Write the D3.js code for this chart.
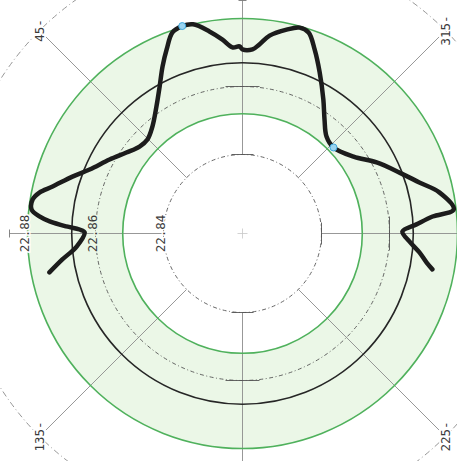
<!DOCTYPE html>
<html>
<head>
<meta charset="utf-8">
<script src="https://cdn.jsdelivr.net/npm/d3@7"></script>
<style>
  body { margin: 0; background: #fff; }
  svg { display: block; }
  text { font-family: "DejaVu Sans Mono", monospace; font-size: 12.5px; fill: #3a3a3a; }
</style>
</head>
<body>
<svg id="chart" width="457" height="461"></svg>
<script>
// measured profile: angle in degrees, counter-clockwise from the top
var angles = [-100.7, -99.0, -96.1, -92.7, -89.3, -87.0, -84.9, -83.5, -78.2, -73.9,
  -68.8, -62.1, -55.3, -46.6, -40.9, -35.7, -31.1, -25.6, -21.4, -18.2,
  -15.5, -12.2, -7.8, -5.1, -3.1, 0, 0.9, 3.1, 5.9, 9.3,
  13.3, 16.2, 19.2, 22.4, 25.6, 29.4, 34.1, 40.1, 45.3, 49.8,
  55.1, 60.9, 67.3, 71.5, 76.1, 78.6, 80.8, 83.5, 85.2, 86.4,
  87.7, 88.6, 89.6, 94.5, 98.2, 101.4];
var values = [22.8736, 22.8716, 22.8691, 22.8659, 22.8638, 22.8680, 22.8729, 22.8793, 22.8759, 22.8709,
  22.8663, 22.8614, 22.8565, 22.8536, 22.8545, 22.8581, 22.8628, 22.8693, 22.8749, 22.8790,
  22.8796, 22.8781, 22.8755, 22.8726, 22.8710, 22.8709, 22.8718, 22.8716, 22.8741, 22.8770,
  22.8800, 22.8803, 22.8794, 22.8753, 22.8712, 22.8664, 22.8619, 22.8579, 22.8561, 22.8564,
  22.8584, 22.8615, 22.8655, 22.8695, 22.8743, 22.8777, 22.8793, 22.8792, 22.8767, 22.8736,
  22.8686, 22.8647, 22.8632, 22.8657, 22.8703, 22.8747];

var radialTicks = [22.84, 22.86, 22.88];
var angleTicks = [45, 135, 225, 315];
var mainAxes = [0, 90, 180, 270];
var lowerLimit = 22.852;
var nominal = 22.867;
var upperLimit = 22.88;

var cx = 242.5, cy = 233.5;
var rad = Math.PI / 180;

var r = d3.scaleLinear().domain([22.84, 22.88]).range([79, 215]);

function px(a, rr) { return -rr * Math.sin(a * rad); }
function py(a, rr) { return -rr * Math.cos(a * rad); }

var svg = d3.select('#chart');
var g = svg.append('g').attr('transform', 'translate(' + cx + ',' + cy + ')');

// tolerance band
var band = d3.arc()
  .innerRadius(r(lowerLimit))
  .outerRadius(r(upperLimit))
  .startAngle(0)
  .endAngle(2 * Math.PI);
g.append('path').attr('d', band()).attr('fill', '#ebf7e7');

// outer frame circle (dashed)
g.append('circle').attr('r', 287)
  .attr('fill', 'none').attr('stroke', '#8a8a8a')
  .attr('stroke-width', 0.9).attr('stroke-dasharray', '6,3,1,3');

// radial lines
g.selectAll('line.axis').data(mainAxes).enter().append('line')
  .attr('class', 'axis')
  .attr('x1', function (d) { return px(d, r(22.84)); })
  .attr('y1', function (d) { return py(d, r(22.84)); })
  .attr('x2', function (d) { return px(d, 233); })
  .attr('y2', function (d) { return py(d, 233); })
  .attr('stroke', '#8c8c8c').attr('stroke-width', 0.9);

g.selectAll('line.diag').data(angleTicks).enter().append('line')
  .attr('class', 'diag')
  .attr('x1', function (d) { return px(d, r(22.84)); })
  .attr('y1', function (d) { return py(d, r(22.84)); })
  .attr('x2', function (d) { return px(d, 278); })
  .attr('y2', function (d) { return py(d, 278); })
  .attr('stroke', '#8c8c8c').attr('stroke-width', 0.9);

// grid circles
g.selectAll('circle.grid').data(radialTicks.slice(0, 2)).enter().append('circle')
  .attr('class', 'grid')
  .attr('r', function (d) { return r(d); })
  .attr('fill', 'none').attr('stroke', '#555')
  .attr('stroke-width', 0.9).attr('stroke-dasharray', '4,2.5,1,2.5');

// tangent ticks where the main axes cross the grid circles
var tickLen = {};
tickLen[22.84] = 22;
tickLen[22.86] = 34;
radialTicks.slice(0, 2).forEach(function (v) {
  g.selectAll(null).data(mainAxes).enter().append('line')
    .attr('x1', function (d) { return px(d, r(v)) - Math.cos(d * rad) * tickLen[v] / 2; })
    .attr('y1', function (d) { return py(d, r(v)) + Math.sin(d * rad) * tickLen[v] / 2; })
    .attr('x2', function (d) { return px(d, r(v)) + Math.cos(d * rad) * tickLen[v] / 2; })
    .attr('y2', function (d) { return py(d, r(v)) - Math.sin(d * rad) * tickLen[v] / 2; })
    .attr('stroke', '#555').attr('stroke-width', 0.9);
});
g.selectAll(null).data(mainAxes).enter().append('line')
  .attr('x1', function (d) { return px(d, 233) - Math.cos(d * rad) * 4; })
  .attr('y1', function (d) { return py(d, 233) + Math.sin(d * rad) * 4; })
  .attr('x2', function (d) { return px(d, 233) + Math.cos(d * rad) * 4; })
  .attr('y2', function (d) { return py(d, 233) - Math.sin(d * rad) * 4; })
  .attr('stroke', '#777').attr('stroke-width', 0.9);

// centre cross
g.append('path').attr('d', 'M-5,0H5M0,-5V5')
  .attr('stroke', '#c8c8c8').attr('stroke-width', 0.8);

// limit circles
g.selectAll('circle.limit').data([lowerLimit, upperLimit]).enter().append('circle')
  .attr('class', 'limit')
  .attr('r', function (d) { return r(d); })
  .attr('fill', 'none').attr('stroke', '#4fb15c').attr('stroke-width', 1.6);

// nominal circle
g.append('circle').attr('r', r(nominal))
  .attr('fill', 'none').attr('stroke', '#262626').attr('stroke-width', 1.6);

// radial value labels along the left axis
g.selectAll('text.rlab').data(radialTicks).enter().append('text')
  .attr('class', 'rlab')
  .attr('transform', function (d) { return 'translate(' + (px(90, r(d)) - 3) + ',0) rotate(-90)'; })
  .attr('text-anchor', 'middle')
  .attr('dy', '0.36em')
  .attr('stroke', function (d) { return (d > lowerLimit && d < upperLimit) ? '#ebf7e7' : '#fff'; })
  .attr('stroke-width', 3)
  .attr('paint-order', 'stroke')
  .text(function (d) { return d.toFixed(2); });

// angle labels
g.selectAll('text.alab').data(angleTicks).enter().append('text')
  .attr('class', 'alab')
  .attr('transform', function (d) { return 'translate(' + px(d, 287) + ',' + py(d, 287) + ') rotate(-90)'; })
  .attr('text-anchor', 'middle')
  .attr('dy', '0.36em')
  .attr('stroke', '#fff').attr('stroke-width', 3).attr('paint-order', 'stroke')
  .text(function (d) { return d + '-'; });

// measured profile
var pts = angles.map(function (a, i) { return [a, values[i]]; });
var line = d3.lineRadial()
  .angle(function (d) { return -d[0] * rad; })
  .radius(function (d) { return r(d[1]); })
  .curve(d3.curveCatmullRom.alpha(0.5));
g.append('path').datum(pts).attr('d', line)
  .attr('fill', 'none').attr('stroke', '#1c1c1c')
  .attr('stroke-width', 4.5).attr('stroke-linejoin', 'round').attr('stroke-linecap', 'round');

// max / min markers
var iMax = d3.maxIndex(values), iMin = d3.minIndex(values);
g.selectAll('circle.mark').data([iMax, iMin]).enter().append('circle')
  .attr('class', 'mark')
  .attr('cx', function (i) { return px(angles[i], r(values[i])); })
  .attr('cy', function (i) { return py(angles[i], r(values[i])); })
  .attr('r', 3.5)
  .attr('fill', '#9ad4f0').attr('stroke', '#3fa7dc').attr('stroke-width', 1);
</script>
</body>
</html>
